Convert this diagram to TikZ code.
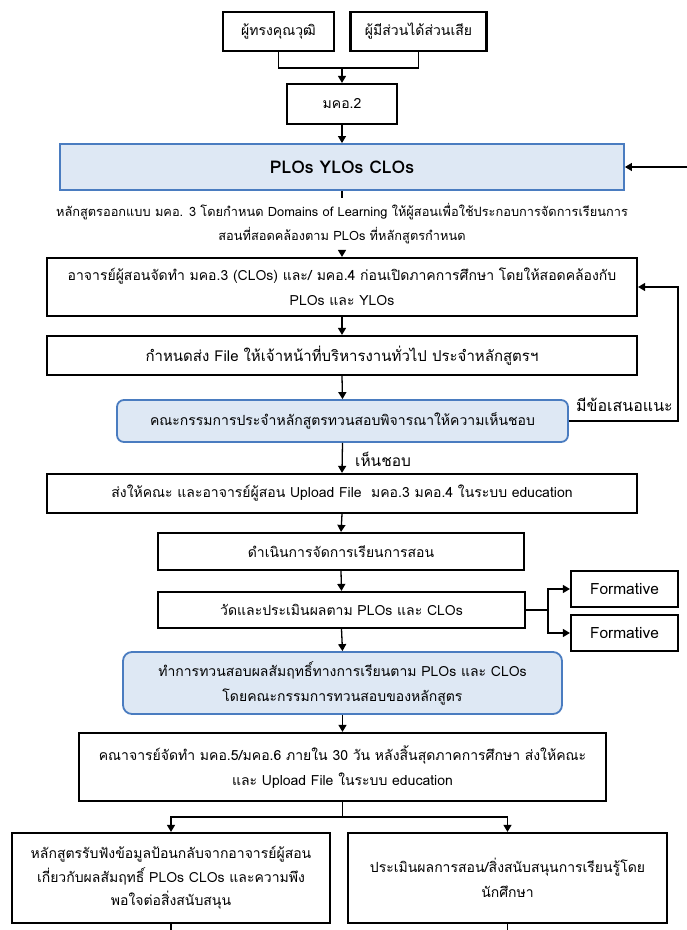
\documentclass[tikz,border=0pt]{standalone}
\usepackage{fontspec}
\setmainfont[Script=Thai]{Loma}
\usetikzlibrary{arrows.meta}
\definecolor{bluefill}{HTML}{DEE8F4}
\definecolor{blueline}{HTML}{4A7CC0}
\begin{document}
\begin{tikzpicture}[x=1pt,y=-1pt,
  txt/.style={font=\fontsize{14}{25}\selectfont},
  bx/.style={draw=black, line width=2.2pt, align=center, inner sep=0pt, txt},
  bluebx/.style={draw=blueline, fill=bluefill, line width=1.8pt, align=center, inner sep=0pt, txt},
  ln/.style={draw=black, line width=1.3pt},
  arr/.style={ln, -{Triangle[length=7pt,width=8pt]}}]
\useasboundingbox (0,0) rectangle (687,930);
\fill[white] (0,0) rectangle (687,930);

\node[bx, minimum width=111pt, minimum height=39pt] (b1) at (278.5,31.5) {ผู้ทรงคุณวุฒิ};
\node[bx, minimum width=136pt, minimum height=39pt] (b2) at (418.5,31.5) {ผู้มีส่วนได้ส่วนเสีย};
\node[bx, minimum width=110pt, minimum height=40pt] (m2) at (342,104) {มคอ.2};
\node[bluebx, rectangle, minimum width=564pt, minimum height=46pt, font=\bfseries\fontsize{17.5}{20}\selectfont] (plo) at (342,167) {PLOs YLOs CLOs};
\node[align=center, inner sep=0pt, minimum height=52pt, font=\fontsize{12.8}{24}\selectfont] (note) at (342,224) {หลักสูตรออกแบบ มคอ. 3 โดยกำหนด Domains of Learning ให้ผู้สอนเพื่อใช้ประกอบการจัดการเรียนการ\\สอนที่สอดคล้องตาม PLOs ที่หลักสูตรกำหนด};
\node[bx, minimum width=590pt, minimum height=58pt] (b3) at (342,287) {อาจารย์ผู้สอนจัดทำ มคอ.3 (CLOs) และ/ มคอ.4 ก่อนเปิดภาคการศึกษา โดยให้สอดคล้องกับ\\PLOs และ YLOs};
\node[bx, minimum width=590pt, minimum height=39pt, font=\fontsize{15}{25}\selectfont] (b4) at (342,355.5) {กำหนดส่ง File ให้เจ้าหน้าที่บริหารงานทั่วไป ประจำหลักสูตรฯ};
\node[bluebx, rounded corners=7pt, minimum width=451pt, minimum height=42pt] (r1) at (342.5,421) {คณะกรรมการประจำหลักสูตรทวนสอบพิจารณาให้ความเห็นชอบ};
\node[bx, minimum width=590pt, minimum height=39pt] (b5) at (342,493.5) {ส่งให้คณะ และอาจารย์ผู้สอน Upload File\ \ มคอ.3 มคอ.4 ในระบบ education};
\node[bx, minimum width=366pt, minimum height=37pt] (b6) at (341,551.5) {ดำเนินการจัดการเรียนการสอน};
\node[bx, minimum width=367pt, minimum height=36pt] (b7) at (341.5,610) {วัดและประเมินผลตาม PLOs และ CLOs};
\node[bx, minimum width=107pt, minimum height=36pt, font=\fontsize{15.5}{20}\selectfont] (f1) at (624.5,589) {Formative};
\node[bx, minimum width=107pt, minimum height=36pt, font=\fontsize{15.5}{20}\selectfont] (f2) at (624.5,633) {Formative};
\node[bluebx, rounded corners=9pt, minimum width=439pt, minimum height=62pt] (r2) at (342.5,683) {ทำการทวนสอบผลสัมฤทธิ์ทางการเรียนตาม PLOs และ CLOs\\โดยคณะกรรมการทวนสอบของหลักสูตร};
\node[bx, minimum width=527pt, minimum height=68pt] (b9) at (342.5,767) {คณาจารย์จัดทำ มคอ.5/มคอ.6 ภายใน 30 วัน หลังสิ้นสุดภาคการศึกษา ส่งให้คณะ\\และ Upload File ในระบบ education};
\node[bx, minimum width=318pt, minimum height=90pt, font=\fontsize{14}{23.5}\selectfont] (b10) at (171,878) {หลักสูตรรับฟังข้อมูลป้อนกลับจากอาจารย์ผู้สอน\\เกี่ยวกับผลสัมฤทธิ์ PLOs CLOs และความพึง\\พอใจต่อสิ่งสนับสนุน};
\node[bx, minimum width=319pt, minimum height=90pt] (b11) at (507.5,878) {ประเมินผลการสอน/สิ่งสนับสนุนการเรียนรู้โดย\\นักศึกษา};

\node[font=\fontsize{16}{18}\selectfont, anchor=east, inner sep=0pt] (lbl1) at (673,405) {มีข้อเสนอแนะ};
\node[font=\fontsize{15.5}{18}\selectfont, anchor=west, inner sep=0pt] (lbl2) at (355,459) {เห็นชอบ};

\coordinate (j1) at (342,68);
\coordinate (rin) at (687,167);
\coordinate (fb) at (678,421);
\coordinate (br) at (548,610);
\coordinate (j2) at (342.5,817);
\coordinate (t10) at (171,930);
\coordinate (t11) at (507.5,930);

\draw[ln] (b1.south) |- (j1) -| (b2.south);
\draw[arr] (j1) -- (m2.north);
\draw[arr] (m2.south) -- (plo.north);
\draw[arr] (rin) -- (plo.east);
\draw[ln] (plo.south) -- (note.north);
\draw[arr] (note.south) -- (b3.north);
\draw[arr] (b3.south) -- (b4.north);
\draw[arr] (b4.south) -- (r1.north);
\draw[arr] (r1.east) -- (fb) |- (b3.east);
\draw[arr] (r1.south) -- (b5.north);
\draw[arr] (b5.south) -- (b6.north);
\draw[arr] (b6.south) -- (b7.north);
\draw[ln] (b7.east) -- (br);
\draw[arr] (br) |- (f1.west);
\draw[arr] (br) |- (f2.west);
\draw[arr] (b7.south) -- (r2.north);
\draw[arr] (r2.south) -- (b9.north);
\draw[ln] (b9.south) -- (j2);
\draw[arr] (j2) -| (b10.north);
\draw[arr] (j2) -| (b11.north);
\draw[ln] (b10.south) -- (t10);
\draw[ln] (b11.south) -- (t11);
\end{tikzpicture}
\end{document}
